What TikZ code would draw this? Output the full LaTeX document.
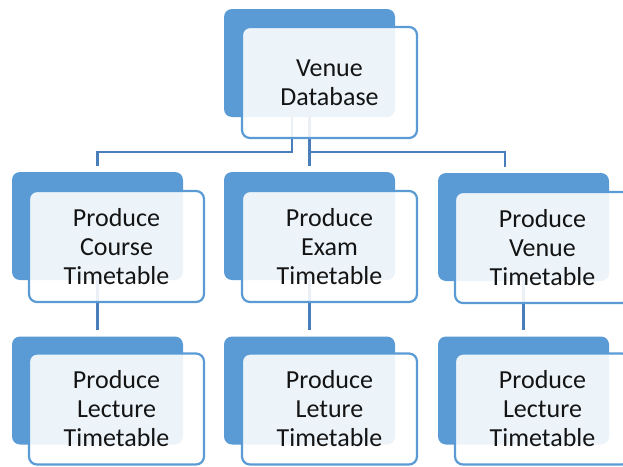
\documentclass[tikz,border=0pt]{standalone}
\usepackage{fontspec}
\setmainfont{Carlito}
\definecolor{boxblue}{RGB}{91,155,213}
\definecolor{linkblue}{RGB}{74,126,187}
\definecolor{inkgray}{RGB}{20,20,20}
\tikzset{
    backbox/.style={fill=boxblue, rounded corners=8pt, minimum width=171pt,
        minimum height=108pt, inner sep=0pt},
    frontbox/.style={draw=boxblue, line width=2.2pt, fill=white, fill opacity=0.89,
        text opacity=1, rounded corners=8pt, minimum width=175pt, minimum height=111pt,
        inner sep=0pt, align=center, text=inkgray,
        font=\fontsize{26pt}{29pt}\selectfont},
    link/.style={draw=linkblue, line width=2.2pt}
}
\begin{document}
\begin{tikzpicture}[x=1pt, y=-1pt]
    \clip (0,0) rectangle (623,466);

    % Back shapes
    \node[backbox] (dbback) at (309.5, 63) {};
    \node[backbox] (courseback) at (97.5, 226) {};
    \node[backbox] (examback) at (309.5, 226) {};
    \node[backbox] (venueback) at (523.5, 227) {};
    \node[backbox] (lectoneback) at (97.5, 390.5) {};
    \node[backbox] (lectwoback) at (309.5, 390.5) {};
    \node[backbox] (lecthreeback) at (523.5, 390.5) {};

    % Connectors
    \draw[link] ([xshift=-17.5pt]dbback.south) -- ++(0,35) -| ([yshift=6pt]courseback.north);
    \draw[link] (dbback.south) -- ([yshift=6pt]examback.north);
    \draw[link] (dbback.south) ++(0,35) -| ([xshift=-18.5pt,yshift=6pt]venueback.north);
    \draw[link] (courseback.south) -- ([yshift=6pt]lectoneback.north);
    \draw[link] (examback.south) -- ([yshift=6pt]lectwoback.north);
    \draw[link] (venueback.south) -- ([yshift=6pt]lecthreeback.north);

    % Front boxes
    \node[frontbox] (db) at (329.5, 82.5) {Venue\\Database};
    \node[frontbox] (course) at (116.5, 246.5) {Produce\\Course\\Timetable};
    \node[frontbox] (exam) at (329.5, 246.5) {Produce\\Exam\\Timetable};
    \node[frontbox] (venue) at (542.5, 247.5) {Produce\\Venue\\Timetable};
    \node[frontbox] (lectone) at (116.5, 409) {Produce\\Lecture\\Timetable};
    \node[frontbox] (lectwo) at (329.5, 409) {Produce\\Leture\\Timetable};
    \node[frontbox] (lecthree) at (542.5, 409) {Produce\\Lecture\\Timetable};
\end{tikzpicture}
\end{document}
